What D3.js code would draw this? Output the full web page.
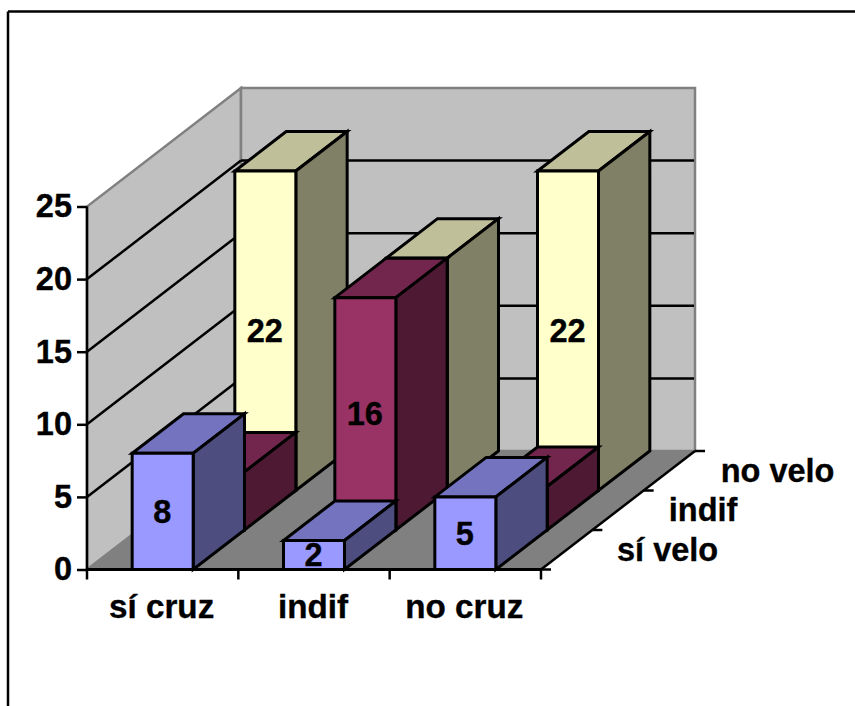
<!DOCTYPE html>
<html><head><meta charset="utf-8">
<script src="https://cdn.jsdelivr.net/npm/d3@7/dist/d3.min.js"></script>
<style>html,body{margin:0;padding:0;background:#fff;overflow:hidden}svg{display:block}
text{font-family:"Liberation Sans",Arial,sans-serif;font-weight:bold;font-size:32.5px;fill:#000;stroke:#000;stroke-width:0.35px}</style>
</head><body><svg id="c" width="855" height="706"></svg>
<script>
const categories = ["sí cruz", "indif", "no cruz"];
const seriesNames = ["sí velo", "indif", "no velo"];
const siVelo = [8, 2, 5];
const indif = [4, 16, 3];
const noVelo = [22, 16, 22];
const yTicks = [0, 5, 10, 15, 20, 25];
const frontColors = ["#9999ff", "#993366", "#ffffcc"];
const topColors = ["#7373bf", "#73264d", "#bfbf99"];
const sideColors = ["#4d4d80", "#4d1933", "#808066"];
// which bars keep a readable value label (others are hidden behind nearer bars)
const labelShown = [[true, true, true], [false, true, false], [true, false, true]];
const seriesValues = [siVelo, indif, noVelo];

const svg = d3.select("#c");
const DX = 154, DY = -118.5;
const y = d3.scaleLinear().domain([0, 25]).range([569.5, 206.5]);
const x = d3.scaleBand().domain(categories).range([87, 541]).paddingInner(0.597).paddingOuter(0.2985);
const z = d3.scaleBand().domain(seriesNames).range([0, 1]);
const P = (px, py, d) => [px + DX * d, py + DY * d];
const poly = (pts, fill, stroke, w) => svg.append("polygon")
  .attr("points", pts.map(p => p.join(",")).join(" "))
  .attr("fill", fill).attr("stroke", stroke).attr("stroke-width", w).attr("stroke-linejoin", "miter");
const line = (a, b, stroke, w) => svg.append("line").attr("x1", a[0]).attr("y1", a[1]).attr("x2", b[0]).attr("y2", b[1])
  .attr("stroke", stroke).attr("stroke-width", w);

// chart frame
line([8, 706], [8, 11.5], "#000", 2.5);
line([8, 11.5], [855, 11.5], "#000", 2.5);

const x0 = x.range()[0], x1 = x.range()[1], y0 = y(0), yT = y(25);
// walls and floor
poly([P(x0, y0, 0), P(x0, yT, 0), P(x0, yT, 1), P(x0, y0, 1)], "#c0c0c0", "#808080", 2.5);
poly([P(x0, y0, 1), P(x0, yT, 1), P(x1, yT, 1), P(x1, y0, 1)], "#c0c0c0", "#808080", 2.5);
poly([P(x0, y0, 0), P(x0, y0, 1), P(x1, y0, 1), P(x1, y0, 0)], "#808080", "#808080", 1);

// gridlines
yTicks.filter(t => t > 0 && t < 25).forEach(t => {
  line(P(x0, y(t), 0), P(x0, y(t), 1), "#000", 2.5);
  line(P(x0, y(t), 1), P(x1 - 1, y(t), 1), "#000", 2.5);
});

// bars, back row first
d3.range(seriesNames.length - 1, -1, -1).forEach(si => {
  const d = z(seriesNames[si]), dd = d + z.bandwidth();
  categories.forEach((c, ci) => {
    const v = seriesValues[si][ci];
    const l = x(c), r = l + x.bandwidth(), b = y(0), t = y(v);
    poly([P(l, t, d), P(r, t, d), P(r, t, dd), P(l, t, dd)], topColors[si], "#000", 3);
    poly([P(r, b, d), P(r, t, d), P(r, t, dd), P(r, b, dd)], sideColors[si], "#000", 3);
    poly([P(l, b, d), P(l, t, d), P(r, t, d), P(r, b, d)], frontColors[si], "#000", 3);
    if (labelShown[si][ci]) {
      const cp = P((l + r) / 2, (t + b) / 2, d);
      svg.append("text").attr("x", cp[0] - 0.5).attr("y", cp[1]).attr("dy", "0.35em")
        .attr("text-anchor", "middle").text(v);
    }
  });
});

// value axis
const yAxis = svg.append("g").attr("transform", `translate(${x0},0)`)
  .call(d3.axisLeft(y).tickValues(yTicks).tickSize(10).tickPadding(5));
yAxis.selectAll(".tick line").attr("stroke", "#000").attr("stroke-width", 2.5);
yAxis.select(".domain").attr("stroke", "#000").attr("stroke-width", 2.5).attr("d", `M0,${yT}V${y0}`);
yAxis.selectAll("text").style("font-family", '"Liberation Sans",Arial,sans-serif').style("font-size", "32.5px").style("font-weight", "bold");

// category axis
line([x0, y0], [x1, y0], "#000", 3);
d3.range(categories.length + 1).forEach(i => {
  const tx = x0 + i * x.step();
  line([tx, y0], [tx, y0 + 10], "#000", 2.5);
});
categories.forEach(c => {
  svg.append("text").attr("x", x(c) + x.bandwidth() / 2 - 1).attr("y", 618)
    .attr("text-anchor", "middle").style("font-size", "33.2px").text(c);
});

// series axis
line(P(x1, y0, 0), P(x1, y0, 1), "#000", 2.5);
[0, 1, 2, 3].forEach(i => {
  const p = P(x1, y0, i / 3);
  line(p, [p[0] + 10, p[1]], "#000", 2.5);
});
seriesNames.forEach((s, i) => {
  const p = P(x1, y0, z(s));
  svg.append("text").attr("x", p[0] + 76 + i * 0.5).attr("y", p[1] - 9).text(s);
});
</script></body></html>
